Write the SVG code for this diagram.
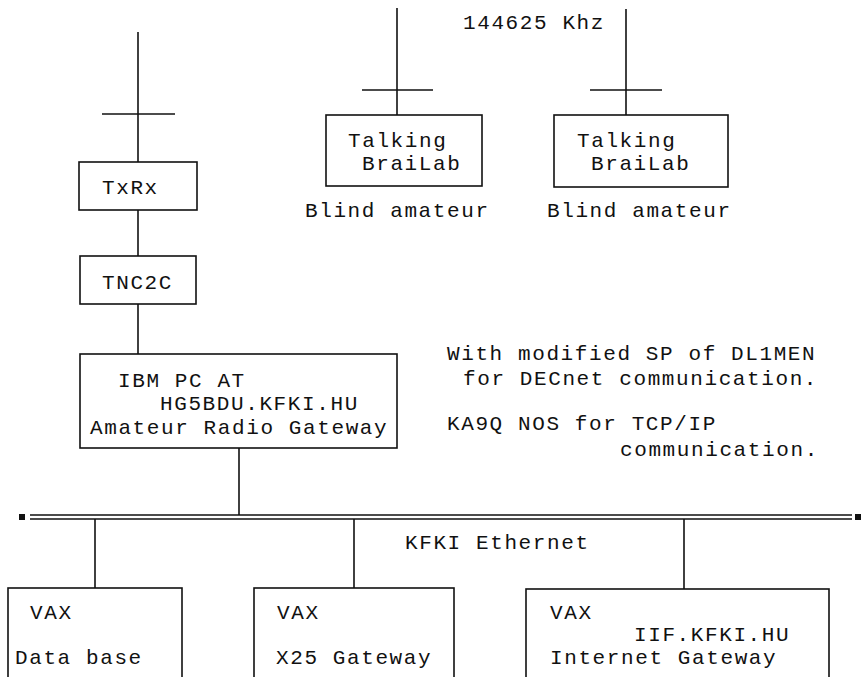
<svg xmlns="http://www.w3.org/2000/svg" width="861" height="677" viewBox="0 0 861 677">
<style>
.ln{stroke:#111;stroke-width:1.6;fill:none}
.bx{stroke:#111;stroke-width:1.6;fill:#fff}
text{font-family:"Liberation Mono","Courier New",monospace;font-size:21px;letter-spacing:1.6px;fill:#111}
</style>
<rect width="861" height="677" fill="#fff"/>
<g id="connectors">
<line class="ln" x1="138" y1="32" x2="138" y2="162"/>
<line class="ln" x1="102" y1="114" x2="175" y2="114"/>
<line class="ln" x1="138" y1="210" x2="138" y2="256"/>
<line class="ln" x1="138" y1="304" x2="138" y2="354"/>
<line class="ln" x1="397" y1="8" x2="397" y2="115"/>
<line class="ln" x1="362" y1="90" x2="433" y2="90"/>
<line class="ln" x1="626" y1="9" x2="626" y2="115"/>
<line class="ln" x1="590" y1="90" x2="662" y2="90"/>
<line class="ln" x1="239" y1="448" x2="239" y2="515"/>
<line class="ln" x1="30" y1="515" x2="852" y2="515" style="stroke-width:1.3"/>
<line class="ln" x1="30" y1="519" x2="852" y2="519" style="stroke-width:1.3"/>
<rect x="19" y="514" width="6" height="6" fill="#111"/>
<rect x="855" y="514" width="6" height="6" fill="#111"/>
<line class="ln" x1="95" y1="519" x2="95" y2="588"/>
<line class="ln" x1="354" y1="519" x2="354" y2="588"/>
<line class="ln" x1="684" y1="519" x2="684" y2="589"/>
</g>
<g id="txrx"><rect class="bx" x="79" y="162" width="118" height="48"/><text x="102" y="194">TxRx</text></g>
<g id="tnc2c"><rect class="bx" x="80" y="256" width="116" height="48"/><text x="102" y="289">TNC2C</text></g>
<g id="ibmpc"><rect class="bx" x="80" y="354" width="317" height="94"/>
<text x="118" y="387">IBM PC AT</text><text x="160" y="410">HG5BDU.KFKI.HU</text><text x="90" y="434">Amateur Radio Gateway</text></g>
<g id="brailab1"><rect class="bx" x="326" y="115" width="156" height="71"/>
<text x="348" y="147">Talking</text><text x="362" y="170">BraiLab</text></g>
<text x="305" y="217">Blind amateur</text>
<g id="brailab2"><rect class="bx" x="554" y="115" width="174" height="72"/>
<text x="577" y="147">Talking</text><text x="591" y="170">BraiLab</text></g>
<text x="547" y="217">Blind amateur</text>
<text x="463" y="29">144625 Khz</text>
<text x="447" y="360">With modified SP of DL1MEN</text>
<text x="463" y="385">for DECnet communication.</text>
<text x="447" y="430">KA9Q NOS for TCP/IP</text>
<text x="620" y="456">communication.</text>
<text x="405" y="549">KFKI Ethernet</text>
<g id="vax-db"><rect class="bx" x="8" y="588" width="174" height="110"/>
<text x="30" y="619">VAX</text><text x="15" y="664">Data base</text></g>
<g id="vax-x25"><rect class="bx" x="254" y="588" width="200" height="110"/>
<text x="277" y="619">VAX</text><text x="276" y="664">X25 Gateway</text></g>
<g id="vax-inet"><rect class="bx" x="526" y="589" width="303" height="110"/>
<text x="550" y="619">VAX</text><text x="634" y="641">IIF.KFKI.HU</text><text x="550" y="664">Internet Gateway</text></g>
</svg>
